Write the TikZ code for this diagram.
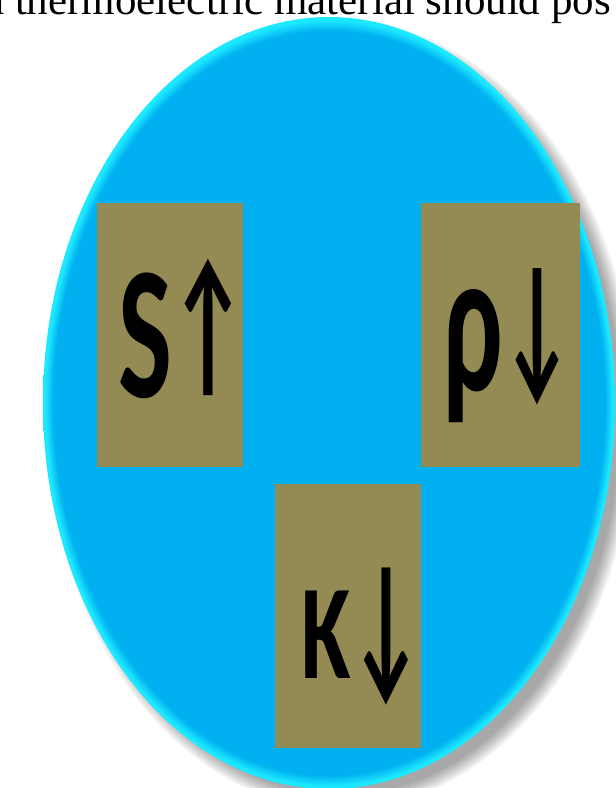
\documentclass[tikz,border=0pt]{standalone}
\usepackage{fontspec}
\usepackage{graphicx}
\setmainfont{Liberation Serif}
\newfontfamily\calfont{Carlito}
\definecolor{skyfill}{HTML}{00B0F0}
\definecolor{rimcyan}{HTML}{1CE8FF}
\definecolor{olivefill}{HTML}{948A54}
\pgfdeclareradialshading{discrim}{\pgfpoint{0bp}{0bp}}{color(0bp)=(skyfill); color(24.1bp)=(skyfill); color(24.8bp)=(rimcyan); color(25bp)=(rimcyan); color(50bp)=(rimcyan)}
\newcommand{\bigsym}[3]{\scalebox{#2}[1]{\fontsize{#1}{#1}\selectfont #3}}

\begin{document}
\begin{tikzpicture}[x=1pt, y=-1pt,
    bodytext/.style={inner sep=0pt, anchor=base west, font=\fontsize{43}{43}\selectfont},
    propbox/.style={fill=olivefill, minimum width=146pt, minimum height=264pt, inner sep=0pt},
    proplabel/.style={inner sep=0pt, anchor=base west, font=\calfont\bfseries}
]
\useasboundingbox (0,0) rectangle (616,788);
\clip (0,0) rectangle (616,788);
\node[bodytext] (caption) at (-15,14) {a thermoelectric material should pos};
% soft shadow under the disc
\foreach \k in {0,...,7}
    \fill[black, opacity=0.05] (341,415) ellipse [x radius=280+2*\k, y radius=380+2*\k];
\path[shading=discrim] (329,403) ellipse [x radius=286, y radius=386];
\node[propbox] (sbox) at (170,335) {};
\node[propbox, minimum width=159pt] (rhobox) at (500.5,335) {};
\node[propbox] (kbox) at (348,615.5) {};
\node[proplabel] (slabel) at (118,397)
    {\bigsym{190}{0.6}{S}\kern-2pt\raisebox{19pt}{\bigsym{161}{0.52}{↑}}};
\node[proplabel] (rholabel) at (443,390)
    {\bigsym{205}{0.55}{ρ}\raisebox{12pt}{\bigsym{161}{0.48}{↓}}};
\node[proplabel] (klabel) at (301,678)
    {\bigsym{135}{0.67}{K}\bigsym{162}{0.49}{↓}};
\end{tikzpicture}
\end{document}
